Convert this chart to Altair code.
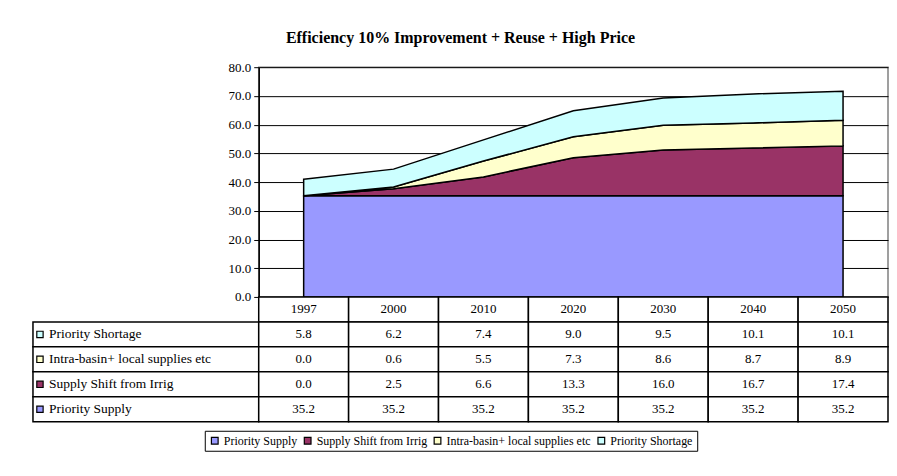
import altair as alt
import pandas as pd

years = ["1997", "2000", "2010", "2020", "2030", "2040", "2050"]
series = ["Priority Supply", "Supply Shift from Irrig", "Intra-basin+ local supplies etc", "Priority Shortage"]
colors = ["#9999FF", "#993366", "#FFFFCC", "#CCFFFF"]

priority_supply = [35.2, 35.2, 35.2, 35.2, 35.2, 35.2, 35.2]
supply_shift = [0.0, 2.5, 6.6, 13.3, 16.0, 16.7, 17.4]
intra_basin = [0.0, 0.6, 5.5, 7.3, 8.6, 8.7, 8.9]
priority_shortage = [5.8, 6.2, 7.4, 9.0, 9.5, 10.1, 10.1]

values = [priority_supply, supply_shift, intra_basin, priority_shortage]

FONT = "Liberation Serif"
color_scale = alt.Scale(domain=series, range=colors)

# ---- area chart data
rows = []
for si, (s, vals) in enumerate(zip(series, values)):
    for y, v in zip(years, vals):
        rows.append({"year": y, "series": s, "value": v, "order": si})
area_df = pd.DataFrame(rows)

area = alt.Chart(area_df).mark_area(stroke="black", strokeWidth=1.5, opacity=1).encode(
    x=alt.X("year:O", sort=years, scale=alt.Scale(type="point", padding=0.5), axis=None),
    y=alt.Y("value:Q", stack="zero", scale=alt.Scale(domain=[0, 80], nice=False),
            axis=alt.Axis(values=[0, 10, 20, 30, 40, 50, 60, 70, 80], format=".1f", title=None,
                          grid=True, gridColor="black", gridWidth=1, gridOpacity=1,
                          domainColor="black", domainWidth=1.5, tickColor="black", tickSize=5,
                          labelFont=FONT, labelFontSize=13, labelColor="black", labelPadding=3)),
    color=alt.Color("series:N", scale=color_scale,
                    legend=alt.Legend(title=None, orient="none", legendX=172, legendY=364,
                                      direction="horizontal",
                                      symbolType="square", symbolSize=45, symbolStrokeColor="black",
                                      symbolStrokeWidth=1.2, labelFont=FONT, labelFontSize=12,
                                      labelColor="black", strokeColor="black", padding=4,
                                      columnPadding=4, labelOffset=3)),
    order=alt.Order("order:Q"),
).properties(width=630, height=230, view=alt.ViewBackground(stroke="#808080", strokeWidth=1.5))

# ---- empty spacer above the label column
spacer = alt.Chart(pd.DataFrame({"t": [""]})).mark_text().encode(text="t:N").properties(width=226, height=230)

# ---- table data
table_rows = ["header", "Priority Shortage", "Intra-basin+ local supplies etc", "Supply Shift from Irrig", "Priority Supply"]
row_vals = {
    "Priority Shortage": priority_shortage,
    "Intra-basin+ local supplies etc": intra_basin,
    "Supply Shift from Irrig": supply_shift,
    "Priority Supply": priority_supply,
}
cells = []
for i, y in enumerate(years):
    cells.append({"row": "header", "year": y, "text": y})
    for r in table_rows[1:]:
        cells.append({"row": r, "year": y, "text": f"{row_vals[r][i]:.1f}"})
cells_df = pd.DataFrame(cells)

tbase = alt.Chart(cells_df).encode(
    x=alt.X("year:O", sort=years, scale=alt.Scale(paddingInner=0, paddingOuter=0), axis=None),
    y=alt.Y("row:O", sort=table_rows, scale=alt.Scale(domain=table_rows, paddingInner=0, paddingOuter=0), axis=None),
)
trect = tbase.mark_rect(fill="white", stroke="black", strokeWidth=1.5)
ttext = tbase.mark_text(font=FONT, fontSize=13, color="black").encode(text="text:N")
values_table = alt.layer(trect, ttext).properties(width=630, height=125)

label_df = pd.DataFrame({"row": table_rows[1:], "col": ["label"] * 4})
lbase = alt.Chart(label_df).encode(
    x=alt.X("col:N", scale=alt.Scale(paddingInner=0, paddingOuter=0), axis=None),
    y=alt.Y("row:O", sort=table_rows, scale=alt.Scale(domain=table_rows, paddingInner=0, paddingOuter=0), axis=None),
)
lrect = lbase.mark_rect(fill="white", stroke="black", strokeWidth=1.5)
ltext = lbase.mark_text(font=FONT, fontSize=13.5, color="black", align="left", dx=16).encode(
    x=alt.X("col:N", bandPosition=0, scale=alt.Scale(paddingInner=0, paddingOuter=0), axis=None),
    text="row:N")
lsq = lbase.mark_square(size=40, stroke="black", strokeWidth=1.2, opacity=1, xOffset=7).encode(
    x=alt.X("col:N", bandPosition=0, scale=alt.Scale(paddingInner=0, paddingOuter=0), axis=None),
    color=alt.Color("row:N", scale=color_scale, legend=None))
label_table = alt.layer(lrect, ltext, lsq).properties(width=226, height=125)

chart = alt.concat(spacer, area, label_table, values_table, columns=2, spacing=0, bounds="flush").properties(
    title=alt.TitleParams("Efficiency 10% Improvement + Reuse + High Price", font=FONT, fontSize=16,
                          fontWeight="bold", color="black", anchor="middle", offset=14),
    padding={"left": 24, "top": 22, "right": 0, "bottom": 10},
).configure_view(stroke=None)

chart.save("out.html", embed_options={"renderer": "svg", "actions": False})
